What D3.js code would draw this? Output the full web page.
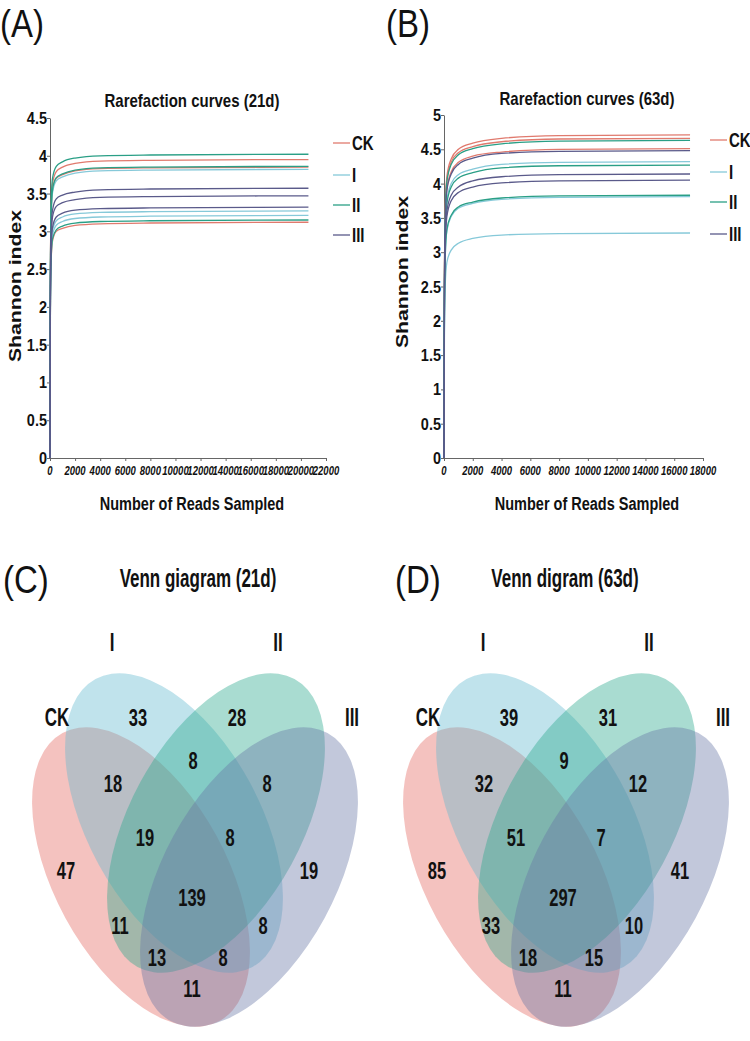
<!DOCTYPE html>
<html><head><meta charset="utf-8">
<script src="https://cdn.jsdelivr.net/npm/d3@7"></script>
<style>body{margin:0;background:#fff} svg{display:block} text{font-family:"Liberation Sans",Arial,sans-serif;fill:#111}</style>
</head><body><svg id="c" width="750" height="1041"></svg>
<script>
// ---------------- DATA ----------------
const groups = ["CK","I","II","III"];
const groupColors = ["#e07a6e","#86c9d9","#2a9f86","#5a5a8a"];

// Panel A: rarefaction (21d)
const titleA = "Rarefaction curves (21d)";
const readsA = [0,30,80,200,500,1000,2000,4000,8000,20600];
const ckA = [
  [0,2.37,3.24,3.63,3.79,3.85,3.90,3.93,3.94,3.95],
  [0,2.31,3.16,3.54,3.70,3.75,3.80,3.83,3.84,3.85],
  [0,1.87,2.56,2.87,3.00,3.04,3.08,3.10,3.11,3.12]];
const iA = [
  [0,2.29,3.13,3.51,3.67,3.72,3.77,3.80,3.81,3.82],
  [0,1.96,2.68,3.01,3.14,3.19,3.23,3.25,3.26,3.27],
  [0,1.93,2.63,2.95,3.08,3.13,3.17,3.19,3.20,3.21]];
const iiA = [
  [0,2.41,3.30,3.70,3.86,3.92,3.97,4.00,4.01,4.02],
  [0,2.32,3.17,3.55,3.71,3.76,3.81,3.84,3.85,3.86],
  [0,1.89,2.58,2.90,3.02,3.07,3.11,3.13,3.14,3.15]];
const iiiA = [
  [0,2.14,2.93,3.28,3.43,3.48,3.52,3.55,3.56,3.57],
  [0,2.08,2.85,3.19,3.33,3.38,3.42,3.45,3.46,3.47],
  [0,1.99,2.72,3.05,3.19,3.24,3.28,3.30,3.31,3.32]];
const xTicksA = [0,2000,4000,6000,8000,10000,12000,14000,16000,18000,20000,22000];
const yTicksA = [0,0.5,1,1.5,2,2.5,3,3.5,4,4.5];

// Panel B: rarefaction (63d)
const titleB = "Rarefaction curves (63d)";
const readsB = [0,30,80,200,500,1000,2000,4000,8000,17100];
const ckB = [
  [0,2.59,3.58,4.10,4.36,4.50,4.59,4.66,4.70,4.71],
  [0,2.56,3.54,4.05,4.31,4.45,4.54,4.61,4.65,4.66],
  [0,2.48,3.43,3.92,4.17,4.31,4.40,4.46,4.50,4.51]];
const iB = [
  [0,2.38,3.28,3.76,4.00,4.13,4.21,4.28,4.31,4.32],
  [0,2.10,2.90,3.31,3.52,3.64,3.71,3.77,3.80,3.81],
  [0,1.80,2.49,2.85,3.03,3.13,3.20,3.25,3.27,3.28]];
const iiB = [
  [0,2.55,3.52,4.03,4.28,4.42,4.51,4.58,4.62,4.63],
  [0,2.35,3.25,3.71,3.95,4.08,4.16,4.23,4.26,4.27],
  [0,2.11,2.91,3.33,3.54,3.66,3.73,3.79,3.82,3.83]];
const iiiB = [
  [0,2.46,3.40,3.90,4.14,4.28,4.37,4.44,4.47,4.48],
  [0,2.28,3.15,3.60,3.83,3.95,4.04,4.10,4.13,4.14],
  [0,2.23,3.08,3.52,3.75,3.87,3.95,4.01,4.04,4.05]];
const xTicksB = [0,2000,4000,6000,8000,10000,12000,14000,16000,18000];
const yTicksB = [0,0.5,1,1.5,2,2.5,3,3.5,4,4.5,5];

// Venn diagrams
const vennRegions = ["CK","I","II","III","CK&I","I&II","II&III","CK&I&II","I&II&III","all","CK&II","I&III","CK&II&III","CK&I&III","CK&III"];
const countsC = [47,33,28,19,18,8,8,19,8,139,11,8,13,8,11];
const countsD = [85,39,31,41,32,9,12,51,7,297,33,10,18,15,11];
const titleC = "Venn giagram (21d)";
const titleD = "Venn digram (63d)";
const vennColors = ["#e4665f","#62b9d0","#28a88c","#6676a5"];

// ---------------- LAYOUT ----------------
const svg = d3.select("#c");
svg.append("rect").attr("width",750).attr("height",1041).attr("fill","#fff");

function txt(x, y, str, o) {
  o = o || {};
  let tr = `translate(${x},${y}) scale(1,${o.s||1})`;
  if (o.rot) tr += " rotate(-90)";
  return svg.append("text").attr("transform", tr)
    .attr("font-size", o.size || 14)
    .attr("font-weight", o.weight || "bold")
    .attr("font-style", o.italic ? "italic" : "normal")
    .attr("text-anchor", o.anchor || "middle")
    .text(str);
}

function rarefaction(cfg) {
  const x = d3.scaleLinear().domain([cfg.xTicks[0], cfg.xTicks[cfg.xTicks.length-1]]).range([cfg.left, cfg.right]);
  const y = d3.scaleLinear().domain([cfg.yTicks[0], cfg.yTicks[cfg.yTicks.length-1]]).range([cfg.bottom, cfg.top]);
  const ax = svg.append("g").attr("transform", `translate(0,${cfg.bottom})`)
    .call(d3.axisBottom(x).tickValues(cfg.xTicks).tickSize(3).tickSizeOuter(0));
  const ay = svg.append("g").attr("transform", `translate(${cfg.left},0)`)
    .call(d3.axisLeft(y).tickValues(cfg.yTicks).tickSize(3).tickSizeOuter(0));
  [ax, ay].forEach(a => {
    a.selectAll("text").remove();
    a.select(".domain").attr("stroke", "#666");
    a.selectAll(".tick line").attr("stroke", "#666");
  });
  cfg.xTicks.forEach(t => txt(x(t), cfg.bottom + 17, String(t), {size: 9.5, s: 1.4, italic: true}));
  cfg.yTicks.forEach(t => txt(cfg.left - 3, y(t) + 6, String(t), {size: 14.5, s: 1.2, anchor: "end"}));

  const line = d3.line().x((d, i) => x(cfg.reads[i])).y(d => y(d)).curve(d3.curveMonotoneX);
  cfg.series.forEach((reps, gi) => {
    reps.forEach(vals => {
      svg.append("path").attr("d", line(vals)).attr("fill", "none")
        .attr("stroke", groupColors[gi]).attr("stroke-width", 1.3);
    });
  });
  // legend
  groups.forEach((g, gi) => {
    const ly = cfg.legY[gi];
    svg.append("line").attr("x1", cfg.legX).attr("x2", cfg.legX + 17).attr("y1", ly).attr("y2", ly)
      .attr("stroke", groupColors[gi]).attr("stroke-width", 1.3);
    txt(cfg.legX + 19, ly + 6.5, g, {size: 15, s: 1.3, anchor: "start"});
  });
  txt(cfg.titleX, cfg.titleY, cfg.title, {size: 15, s: 1.25});
  txt(cfg.titleX, 510, "Number of Reads Sampled", {size: 14.5, s: 1.25});
  txt(cfg.yLabelX, cfg.yLabelY, "Shannon index", {size: 17, s: 1.25, rot: true});
}

rarefaction({reads: readsA, series: [ckA, iA, iiA, iiiA], xTicks: xTicksA, yTicks: yTicksA,
  left: 50, right: 326, top: 118, bottom: 458, legX: 333, legY: [143,175,205,235],
  title: titleA, titleX: 192, titleY: 107, yLabelX: 21, yLabelY: 286});
rarefaction({reads: readsB, series: [ckB, iB, iiB, iiiB], xTicks: xTicksB, yTicks: yTicksB,
  left: 444, right: 703, top: 115, bottom: 458, legX: 710, legY: [140,172,202,234],
  title: titleB, titleX: 587, titleY: 105, yLabelX: 408, yLabelY: 272});

// panel letters
txt(0, 37, "(A)", {size: 33, s: 1.2, weight: "normal", anchor: "start"});
txt(386, 37, "(B)", {size: 33, s: 1.2, weight: "normal", anchor: "start"});
txt(3, 593, "(C)", {size: 33, s: 1.2, weight: "normal", anchor: "start"});
txt(395, 593, "(D)", {size: 33, s: 1.2, weight: "normal", anchor: "start"});

// Venn layout (offsets relative to diagram axis)
const ellipseLayout = [[-54, 877, 61.4], [-21, 823, 61.4], [21, 823, -61.4], [54, 877, -61.4]];
const setLabelPos = [[-138, 717], [-83, 642], [83, 642], [157, 717]];
const regionPos = {"CK":[-129,870],"I":[-57,717],"II":[42,717],"III":[114,870],"CK&I":[-82,783],"I&II":[-2,760],
  "II&III":[72,783],"CK&I&II":[-50,837],"I&II&III":[35,837],"all":[-3,897],"CK&II":[-75,925],"I&III":[68,925],
  "CK&II&III":[-38,957],"CK&I&III":[28,957],"CK&III":[-3,988]};

function venn(axisX, counts, title, titleX) {
  const g = svg.append("g");
  groups.forEach((s, i) => {
    const [dx, cy, rot] = ellipseLayout[i];
    g.append("ellipse").attr("cx", 0).attr("cy", 0).attr("rx", 164).attr("ry", 86)
      .attr("transform", `translate(${axisX + dx},${cy}) rotate(${rot})`)
      .attr("fill", vennColors[i]).attr("fill-opacity", 0.4);
  });
  groups.forEach((s, i) => txt(axisX + setLabelPos[i][0], setLabelPos[i][1] + 9, s, {size: 17, s: 1.5}));
  vennRegions.forEach((r, i) => {
    const p = regionPos[r];
    txt(axisX + p[0], p[1] + 9, String(counts[i]), {size: 16.5, s: 1.5});
  });
  txt(titleX, 587, title, {size: 17, s: 1.5});
}
venn(195, countsC, titleC, 198);
venn(566, countsD, titleD, 565);
</script></body></html>
